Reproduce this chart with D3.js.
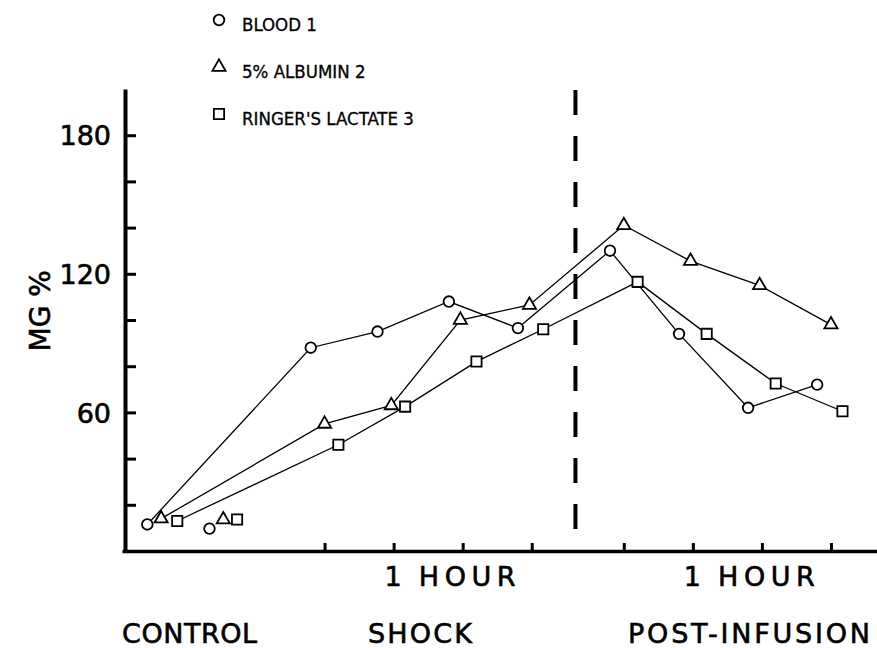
<!DOCTYPE html>
<html>
<head>
<meta charset="utf-8">
<script src="https://cdn.jsdelivr.net/npm/d3@7"></script>
<style>
  body { margin: 0; background: #fff; }
  svg { display: block; }
  .big { font-family: "DejaVu Sans", sans-serif; fill: #000; stroke: #000; stroke-width: 0.6px; }
  .legend text { font-family: "Liberation Sans Narrow", "DejaVu Sans Condensed", sans-serif; font-size: 18.5px; fill: #000; stroke: #000; stroke-width: 0.3px; }
</style>
</head>
<body>
<div id="chart"></div>
<script>
// times in minutes (0 = start of shock), values in mg %
const seriesNames = ["BLOOD 1", "5% ALBUMIN 2", "RINGER'S LACTATE 3"];
const seriesSymbols = ["circle", "triangle", "square"];

const bloodTime  = [-47, 24, 53, 84, 114, 154, 184, 214, 244];
const bloodValue = [11.5, 88, 95, 108, 96.5, 130, 94, 62, 72];
const albuminTime  = [-41, 30, 59, 89, 119, 160, 189, 219, 250];
const albuminValue = [14, 55, 63, 100, 106.5, 141, 125.5, 115, 98];
const ringerTime  = [-34, 36, 65, 96, 125, 166, 196, 226, 255];
const ringerValue = [13, 46, 62.5, 82, 96, 116.5, 94, 72.5, 60.5];

// second control reading, not joined to the lines
const controlTime  = [-20, -14, -8];
const controlValue = [9.7, 13.6, 13.6];

const timeTicks = [30, 60, 90, 120, 160, 190, 220, 250];
const hourTicks = [60, 190];
const hourNum = "1", hourWord = "HOUR";
const infusionTime = 139;
const yTicks = [20, 40, 60, 80, 100, 120, 140, 160, 180];
const yLabelTicks = [60, 120, 180];
const phaseLabels = ["CONTROL", "SHOCK", "POST-INFUSION"];

const W = 877, H = 648;
const svg = d3.select("#chart").append("svg")
    .attr("width", W)
    .attr("height", H);

const x = d3.scaleLinear().domain([-58, 270]).range([122, 877]);
const y = d3.scaleLinear().domain([0, 200]).range([551, 89]);

// x axis, ticks pointing up, no labels
const xAxis = svg.append("g")
    .attr("transform", `translate(0,${y(0)})`)
    .call(d3.axisBottom(x).tickValues(timeTicks).tickSize(-8).tickSizeOuter(0).tickFormat(""));
xAxis.select(".domain").attr("stroke", "#000").attr("stroke-width", 3.5);
xAxis.selectAll(".tick line").attr("stroke", "#000").attr("stroke-width", 3);

// y axis, ticks pointing right
const yAxis = svg.append("g")
    .attr("transform", `translate(${x(-58) + 3},0)`)
    .call(d3.axisLeft(y).tickValues(yTicks).tickSize(-11).tickSizeOuter(0).tickPadding(14)
        .tickFormat(d => yLabelTicks.includes(d) ? d : ""));
yAxis.select(".domain").attr("stroke", "#000").attr("stroke-width", 4);
yAxis.selectAll(".tick line").attr("stroke", "#000").attr("stroke-width", 3);
yAxis.selectAll(".tick text")
    .attr("class", "big")
    .style("font-size", "27px")
    .attr("dy", "0.36em");

// y title
svg.append("text")
    .attr("class", "big")
    .attr("transform", `translate(50,${y(104)}) rotate(-90)`)
    .style("text-anchor", "middle")
    .style("font-size", "28px")
    .text("MG %");

// hour labels: the "1" sits under the tick
const hour = svg.selectAll(".hour")
    .data(hourTicks)
    .enter().append("text")
    .attr("class", "big hour")
    .attr("y", y(0) + 35)
    .style("font-size", "27px");
hour.append("tspan")
    .attr("x", d => x(d) - 9)
    .text(hourNum);
hour.append("tspan")
    .attr("x", d => x(d) + 11)
    .attr("textLength", 111)
    .attr("lengthAdjust", "spacing")
    .text(" " + hourWord);

// phase labels
const phaseX = [122, 368, 628];
const phaseW = [135, 104, 242];
svg.selectAll(".phase")
    .data(phaseLabels)
    .enter().append("text")
    .attr("class", "big phase")
    .attr("x", (d, i) => phaseX[i])
    .attr("y", 643)
    .attr("textLength", (d, i) => phaseW[i])
    .attr("lengthAdjust", "spacing")
    .style("font-size", "27px")
    .text(d => d);

// dashed line at start of infusion
svg.append("line")
    .attr("x1", x(infusionTime)).attr("x2", x(infusionTime))
    .attr("y1", y(200) + 1).attr("y2", y(9))
    .attr("stroke", "#000")
    .attr("stroke-width", 4)
    .attr("stroke-dasharray", "25,21");

const series = [
    { name: seriesNames[0], sym: seriesSymbols[0], time: bloodTime, value: bloodValue },
    { name: seriesNames[1], sym: seriesSymbols[1], time: albuminTime, value: albuminValue },
    { name: seriesNames[2], sym: seriesSymbols[2], time: ringerTime, value: ringerValue }
];

const symbolPath = {
    circle: d3.symbol().type(d3.symbolCircle).size(Math.PI * 28)(),
    triangle: d3.symbol().type(d3.symbolTriangle).size(75)(),
    square: d3.symbol().type(d3.symbolSquare).size(105)()
};

const line = d3.line()
    .x(d => x(d[0]))
    .y(d => y(d[1]));

series.forEach((s, i) => {
    const pts = s.time.map((t, j) => [t, s.value[j]]);
    svg.append("path")
        .datum(pts)
        .attr("d", line)
        .attr("fill", "none")
        .attr("stroke", "#000")
        .attr("stroke-width", 1.3);

    pts.push([controlTime[i], controlValue[i]]);
    svg.selectAll(".pt" + i)
        .data(pts)
        .enter().append("path")
        .attr("class", "pt" + i)
        .attr("d", symbolPath[s.sym])
        .attr("transform", d => `translate(${x(d[0])},${y(d[1])})`)
        .attr("fill", "#fff")
        .attr("stroke", "#000")
        .attr("stroke-width", 1.8);
});

// legend
const legend = svg.append("g").attr("class", "legend");
series.forEach((s, i) => {
    const g = legend.append("g").attr("transform", `translate(219,${20 + i * 47})`);
    g.append("path")
        .attr("d", symbolPath[s.sym])
        .attr("fill", "#fff")
        .attr("stroke", "#000")
        .attr("stroke-width", 1.8);
    g.append("text")
        .attr("x", 23)
        .attr("y", 11)
        .text(s.name);
});
</script>
</body>
</html>
